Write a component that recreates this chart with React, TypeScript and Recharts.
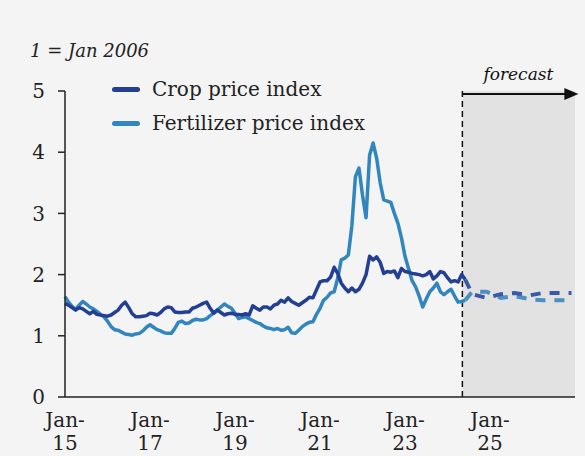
import React from "react";
import {
  LineChart,
  Line,
  XAxis,
  YAxis,
  ReferenceArea,
  ReferenceLine,
} from "recharts";

// Months are counted from Jan 2015 (index 0 = Jan 2015)
const startYear = 2015;
const xTicks = [0, 24, 48, 72, 96, 120];
const yTicks = [0, 1, 2, 3, 4, 5];
const forecastStart = 112.2;
const axisEnd = 144;

const seriesNames = ["Crop price index", "Fertilizer price index"];

const cropIndex = [
  1.53, 1.5, 1.46, 1.42, 1.46, 1.44, 1.4, 1.36, 1.4, 1.35, 1.34, 1.33,
  1.32, 1.34, 1.38, 1.42, 1.5, 1.55, 1.46, 1.36, 1.31, 1.31, 1.32, 1.33,
  1.37, 1.36, 1.34, 1.38, 1.44, 1.47, 1.46, 1.39, 1.38, 1.38, 1.39, 1.39,
  1.45, 1.47, 1.5, 1.53, 1.55, 1.45, 1.37, 1.42, 1.38, 1.34, 1.36, 1.37,
  1.35, 1.35, 1.34, 1.36, 1.34, 1.49, 1.45, 1.42, 1.47, 1.47, 1.44, 1.5,
  1.52, 1.58, 1.55, 1.62, 1.56, 1.53, 1.5, 1.54, 1.58, 1.63, 1.62, 1.75,
  1.88, 1.9, 1.9, 1.96, 2.12, 2.02, 1.86, 1.78, 1.72, 1.78, 1.72, 1.76,
  1.86, 2.0, 2.3, 2.24, 2.29, 2.2, 2.02, 2.05, 2.04, 2.06, 1.95, 2.1,
  2.05, 2.04, 2.02, 2.01, 2.0, 1.98, 2.0, 2.05, 1.93, 1.98, 2.05, 2.03,
  1.95, 1.88, 1.9, 1.88, 2.0, 1.92,
];

const fertIndex = [
  1.64, 1.55, 1.48, 1.43, 1.5, 1.56, 1.52, 1.47, 1.44, 1.4, 1.35, 1.31,
  1.24, 1.15, 1.1, 1.09, 1.06, 1.03, 1.02, 1.01, 1.03, 1.04, 1.08, 1.14,
  1.18, 1.14, 1.1, 1.08, 1.05, 1.04, 1.04, 1.12, 1.22, 1.24, 1.2, 1.21,
  1.25, 1.27, 1.26, 1.26, 1.28, 1.33, 1.37, 1.42, 1.47, 1.52, 1.48, 1.45,
  1.37, 1.28, 1.3, 1.31, 1.28, 1.25, 1.22, 1.2, 1.16, 1.13, 1.12, 1.1,
  1.12, 1.09, 1.1, 1.14, 1.05, 1.04, 1.09, 1.15, 1.19, 1.22, 1.23, 1.35,
  1.45, 1.58, 1.63, 1.7, 1.72, 1.94, 2.24, 2.27, 2.32, 2.8, 3.6, 3.74,
  3.3, 2.93, 3.95, 4.15, 3.9, 3.5, 3.22, 3.2, 3.18, 3.0, 2.84, 2.6,
  2.3, 2.1, 1.9, 1.8, 1.65, 1.47, 1.6, 1.72, 1.78, 1.86, 1.72, 1.67,
  1.72, 1.76, 1.65, 1.55, 1.56, 1.58,
];

const forecastMonths = [113, 115, 119, 123, 127, 131, 135, 139, 143];
const cropForecast = [1.92, 1.68, 1.62, 1.68, 1.7, 1.66, 1.7, 1.7, 1.7];
const fertForecast = [1.58, 1.72, 1.72, 1.62, 1.65, 1.6, 1.58, 1.58, 1.58];

const CROP = "#233f93";
const FERT = "#3186bd";
const CROP_F = "#3a5aa6";
const FERT_F = "#4b8fc3";
const FONT = "'DejaVu Serif', serif";

const rows: any[] = [];
for (let m = 0; m <= axisEnd; m++) {
  const fi = forecastMonths.indexOf(m);
  rows.push({
    m,
    crop: m < cropIndex.length ? cropIndex[m] : null,
    fert: m < fertIndex.length ? fertIndex[m] : null,
    cropF: fi >= 0 ? cropForecast[fi] : null,
    fertF: fi >= 0 ? fertForecast[fi] : null,
  });
}

const XTick = (props: any) => {
  const { x, y, payload } = props;
  const yr = String((startYear + payload.value / 12) % 100).padStart(2, "0");
  return (
    <g>
      <text x={x} y={y + 22} textAnchor="middle" fontFamily={FONT} fontSize={20} fill="#222">
        Jan-
      </text>
      <text x={x} y={y + 45} textAnchor="middle" fontFamily={FONT} fontSize={20} fill="#222">
        {yr}
      </text>
    </g>
  );
};

const ForecastLabel = (props: any) => {
  const vb = props.viewBox || {};
  const x0 = vb.x;
  const y0 = vb.y + 3;
  const x1 = x0 + 116;
  return (
    <g>
      <line x1={x0} y1={y0} x2={x1 - 8} y2={y0} stroke="#111" strokeWidth={2} />
      <polygon points={`${x1},${y0} ${x1 - 14},${y0 - 6} ${x1 - 14},${y0 + 6}`} fill="#111" />
      <text x={x0 + 56} y={y0 - 14} textAnchor="middle" fontFamily={FONT} fontStyle="italic" fontSize={17} fill="#111">
        forecast
      </text>
    </g>
  );
};

export default function App() {
  return (
    <div
      style={{
        position: "fixed",
        left: 0,
        top: 0,
        width: 585,
        height: 456,
        background: "#f4f4f4",
        overflow: "hidden",
      }}
    >
      <div
        style={{
          position: "absolute",
          left: 30,
          top: 40,
          fontFamily: FONT,
          fontStyle: "italic",
          fontSize: 18,
          color: "#222",
        }}
      >
        1 = Jan 2006
      </div>
      <LineChart
        width={585}
        height={456}
        data={rows}
        margin={{ top: 91, right: 10, left: 0, bottom: 0 }}
      >
        <ReferenceArea
          x1={forecastStart}
          x2={axisEnd}
          y1={0}
          y2={5}
          fill="#e2e2e2"
          fillOpacity={1}
          stroke="none"
          ifOverflow="visible"
        />
        <XAxis
          dataKey="m"
          type="number"
          domain={[0, axisEnd]}
          ticks={xTicks}
          tickLine={false}
          axisLine={{ stroke: "#222", strokeWidth: 1.5 }}
          height={59}
          tick={<XTick />}
          interval={0}
        />
        <YAxis
          type="number"
          domain={[0, 5]}
          ticks={yTicks}
          width={65}
          tickSize={7}
          tickMargin={13}
          axisLine={{ stroke: "#222", strokeWidth: 1.5 }}
          tickLine={{ stroke: "#222", strokeWidth: 1.5 }}
          tick={{ fontFamily: FONT, fontSize: 20, fill: "#222" }}
        />
        <ReferenceLine
          x={forecastStart}
          stroke="#111"
          strokeWidth={1.5}
          strokeDasharray="6 4"
          ifOverflow="visible"
          label={<ForecastLabel />}
        />
        <Line
          dataKey="fert"
          name={seriesNames[1]}
          stroke={FERT}
          strokeWidth={3.5}
          dot={false}
          isAnimationActive={false}
          strokeLinejoin="round"
        />
        <Line
          dataKey="crop"
          name={seriesNames[0]}
          stroke={CROP}
          strokeWidth={3.5}
          dot={false}
          isAnimationActive={false}
          strokeLinejoin="round"
        />
        <Line
          dataKey="fertF"
          stroke={FERT_F}
          strokeWidth={4}
          strokeDasharray="10 9"
          dot={false}
          connectNulls
          isAnimationActive={false}
        />
        <Line
          dataKey="cropF"
          stroke={CROP_F}
          strokeWidth={4}
          strokeDasharray="10 9"
          dot={false}
          connectNulls
          isAnimationActive={false}
        />
      </LineChart>
      <div
        style={{
          position: "absolute",
          left: 112,
          top: 72,
          fontFamily: FONT,
          fontSize: 20,
          color: "#222",
          lineHeight: "34px",
        }}
      >
        {[
          { c: CROP, t: seriesNames[0] },
          { c: FERT, t: seriesNames[1] },
        ].map((d) => (
          <div key={d.t} style={{ display: "flex", alignItems: "center", whiteSpace: "nowrap" }}>
            <span
              style={{
                display: "inline-block",
                width: 28,
                height: 5,
                borderRadius: 3,
                background: d.c,
                marginRight: 12,
              }}
            />
            <span>{d.t}</span>
          </div>
        ))}
      </div>
    </div>
  );
}
